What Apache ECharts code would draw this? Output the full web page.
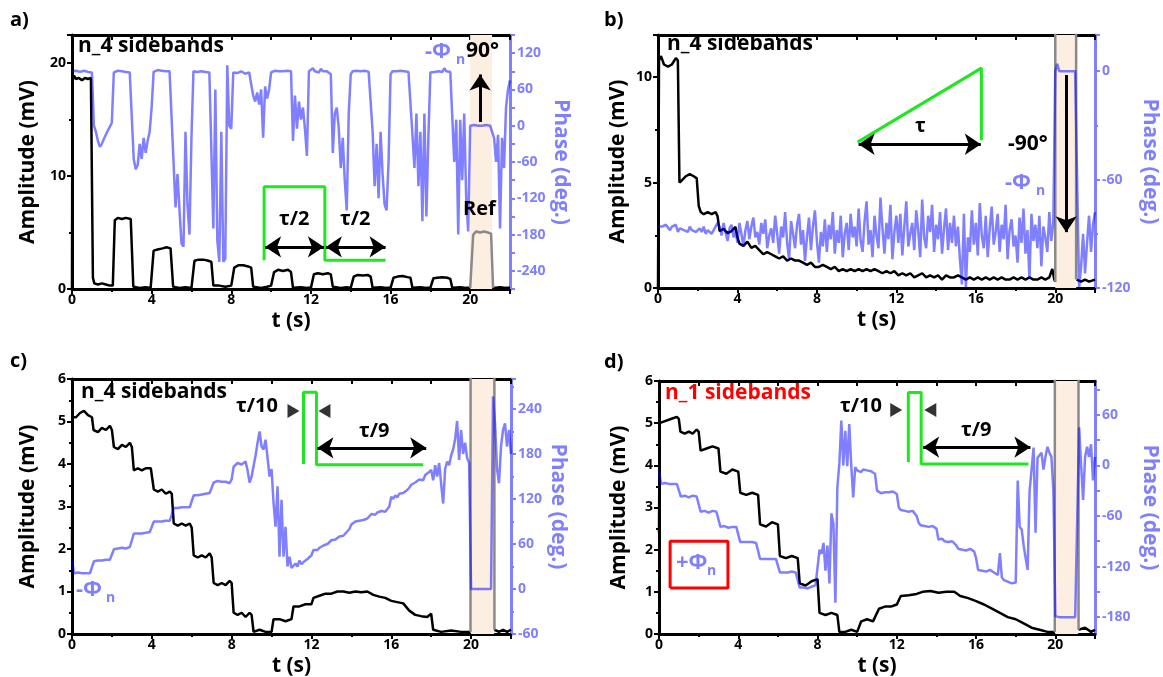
<!DOCTYPE html>
<html><head><meta charset="utf-8">
<script src="https://cdn.jsdelivr.net/npm/echarts@6/dist/echarts.min.js"></script>
<style>html,body{margin:0;padding:0;background:#fff}#c{width:1163px;height:677px}</style>
</head><body><div id="c"></div>
<script>
const FONT = '"Open Sans", "DejaVu Sans", sans-serif';
const BLUE_AX = '#8080ff';
const BLUE_LINE = 'rgba(0,0,255,0.5)';
const GREEN = '#1de81d';
const SHADE = '#fcefe2';
const DT = 0.1; // phase sampling step (s)

// ---------- Panel a ----------
const ampA = [[0,0],[0.02,18.4],[0.1,18.9],[0.2,18.6],[0.35,18.7],[0.5,18.5],[0.65,18.7],[0.8,18.6],[0.95,18.7],[1.05,1.0],[1.12,0.5],[1.3,0.4],[1.5,0.5],[1.7,0.4],[1.9,0.3],[2.05,0.3],[2.15,6.1],[2.3,6.3],[2.5,6.2],[2.7,6.3],[2.95,6.2],[3.08,0.2],[3.4,0.1],[3.7,0.15],[3.95,0.1],[4.1,3.4],[4.3,3.5],[4.55,3.6],[4.75,3.7],[4.95,3.6],[5.08,0.2],[5.4,0.1],[5.7,0.15],[6.0,0.1],[6.15,2.5],[6.35,2.6],[6.6,2.6],[6.85,2.5],[7.0,2.4],[7.1,0.3],[7.4,0.3],[7.7,0.2],[8.0,0.3],[8.15,1.9],[8.35,2.1],[8.6,2.1],[8.85,2.0],[9.0,1.9],[9.1,0.2],[9.5,0.1],[9.8,0.2],[10.0,0.3],[10.15,1.5],[10.35,1.7],[10.6,1.6],[10.85,1.7],[11.0,1.5],[11.1,0.1],[11.5,0.15],[11.8,0.1],[12.0,0.1],[12.15,1.3],[12.35,1.4],[12.6,1.3],[12.85,1.4],[13.0,1.3],[13.1,0.2],[13.5,0.1],[13.8,0.15],[14.0,0.1],[14.15,1.1],[14.35,1.25],[14.6,1.2],[14.85,1.25],[15.0,1.1],[15.1,0.1],[15.5,0.15],[15.8,0.1],[16.0,0.1],[16.15,1.0],[16.35,1.1],[16.6,1.15],[16.85,1.05],[17.0,1.0],[17.1,0.1],[17.5,0.15],[17.8,0.1],[18.0,0.1],[18.15,0.95],[18.35,1.0],[18.6,1.05],[18.85,1.0],[19.0,0.9],[19.1,0.1],[19.5,0.15],[19.8,0.1],[20.0,0.1]];
const ampATail = [[21.15,0.1],[21.5,0.15],[21.8,0.1],[22,0.1]];
const refA = [[20.0,0.1],[20.15,4.8],[20.3,5.1],[20.5,5.0],[20.7,5.1],[20.9,5.0],[21.05,4.9],[21.15,0.1]];
const phaseA = [90,
 90,91,90,89,90,91,90,89,90,88,
 0,-10,-25,-35,-30,-22,-20,-8,-2,5,
 88,90,91,89,90,92,89,90,88,90,
 -55,-72,-65,-30,-55,-20,-45,-25,-10,30,
 89,90,92,90,91,89,90,91,90,88,
 -60,-135,-80,-140,-195,-200,-10,-130,-180,-20,
 90,88,89,91,90,88,89,90,88,85,
 -170,60,-190,-225,-10,-225,-220,100,0,-5,
 88,89,87,88,90,88,86,87,88,88,
 50,40,55,35,60,-20,65,45,60,88,
 90,91,89,90,92,90,89,91,90,90,
 -25,50,-5,40,10,30,-5,-50,90,92,
 95,90,93,88,94,90,92,90,88,85,
 -45,20,30,-5,-70,-20,-90,-140,20,85,
 90,89,91,92,90,88,91,90,89,88,
 -10,-100,-30,-120,-10,-80,-130,-140,-60,85,
 90,92,90,89,91,93,90,91,89,90,
 -15,-70,20,-100,-10,-158,20,-150,-20,88,
 90,89,91,90,92,89,95,90,88,89,
 15,-60,10,-180,10,-90,20,-120,-175,0,
 0,1,0,0,-1,0,0,1,0,0,
 0,-20,-60,-15,-170,-20,-70,30,60,75];
const pulseA = [[9.65,2.55],[9.65,9.05],[12.7,9.05],[12.7,2.55],[15.75,2.55]];

// ---------- Panel b ----------
const ampB = [[0,0],[0.05,10.8],[0.15,11.0],[0.3,10.6],[0.5,10.5],[0.7,10.6],[0.9,10.9],[1.0,10.8],[1.08,5.0],[1.2,5.1],[1.4,5.3],[1.6,5.4],[1.8,5.3],[1.95,5.2],[2.05,3.9],[2.15,3.6],[2.3,3.5],[2.5,3.6],[2.7,3.5],[2.9,3.6],[3.0,3.4],[3.1,2.7],[3.3,2.8],[3.5,2.6],[3.7,2.7],[3.9,2.9],[4.0,2.4],[4.1,2.1],[4.3,2.0],[4.5,2.2],[4.7,1.9],[4.9,2.0],[5.1,1.8],[5.3,1.6],[5.5,1.7],[5.7,1.6],[5.9,1.5],[6.1,1.4],[6.3,1.5],[6.5,1.3],[6.7,1.4],[6.9,1.3],[7.1,1.3],[7.3,1.2],[7.5,1.1],[7.7,1.2],[7.9,1.0],[8.1,1.0],[8.3,1.1],[8.5,1.0],[8.7,0.9],[8.9,1.0],[9.1,0.8],[9.3,0.9],[9.5,0.8],[9.7,0.9],[9.9,0.8],[10.1,0.9],[10.3,0.8],[10.5,0.9],[10.7,0.8],[10.9,0.9],[11.1,0.8],[11.3,0.7],[11.5,0.8],[11.7,0.7],[11.9,0.8],[12.1,0.6],[12.3,0.7],[12.5,0.6],[12.7,0.7],[12.9,0.5],[13.1,0.6],[13.3,0.7],[13.5,0.5],[13.7,0.6],[13.9,0.5],[14.1,0.6],[14.3,0.4],[14.5,0.6],[14.7,0.5],[14.9,0.5],[15.1,0.6],[15.3,0.5],[15.5,0.4],[15.7,0.5],[15.9,0.4],[16.1,0.5],[16.3,0.4],[16.5,0.5],[16.7,0.4],[16.9,0.5],[17.1,0.4],[17.3,0.5],[17.5,0.4],[17.7,0.4],[17.9,0.5],[18.1,0.4],[18.3,0.5],[18.5,0.4],[18.7,0.5],[18.9,0.4],[19.1,0.4],[19.3,0.5],[19.5,0.4],[19.7,0.5],[19.85,0.9],[19.95,0.4],[20.0,0.3]];
const ampBTail = [[21.08,0.4],[21.3,0.3],[21.5,0.4],[21.7,0.3],[22,0.4]];
const refB = [[20.0,0.3],[20.0,30],[21.05,30],[21.05,0.4]];
const phaseB = [-86,
 -85,-86,-87,-85,-86,-88,-86,-87,-85,-89,
 -87,-86,-88,-87,-89,-86,-88,-87,-89,-88,
 -87,-89,-86,-90,-88,-87,-90,-88,-89,-84,
 -86,-91,-84,-89,-94,-87,-85,-92,-88,-95,
 -84,-90,-97,-88,-83,-93,-86,-81,-92,-89,
 -96,-84,-90,-82,-98,-91,-87,-95,-80,-90,
 -101,-86,-92,-78,-95,-104,-83,-90,-98,-85,
 -79,-96,-88,-105,-92,-81,-99,-86,-77,-94,
 -106,-89,-97,-82,-100,-85,-93,-78,-101,-88,
 -95,-80,-103,-90,-84,-99,-79,-92,-86,-97,
 -76,-94,-100,-83,-72,-96,-88,-103,-80,-91,
 -98,-70,-87,-101,-84,-93,-74,-104,-89,-80,
 -95,-79,-102,-86,-72,-97,-90,-84,-99,-77,
 -88,-103,-71,-92,-98,-80,-89,-74,-100,-85,
 -93,-78,-101,-87,-76,-99,-84,-95,-80,-97,
 -86,-104,-118,-79,-120,-92,-100,-77,-96,-84,
 -102,-73,-91,-98,-80,-103,-87,-75,-96,-89,
 -79,-100,-85,-93,-74,-104,-88,-82,-97,-91,
 -106,-81,-95,-76,-101,-88,-115,-79,-94,-85,
 -98,-80,-108,-86,-92,-100,-78,-94,-84,0,
 4,0,0,0,1,0,0,0,0,0,
 -60,-120,-108,-90,-112,-95,-80,-100,-85,-78];
const triB = [[10.05,6.92],[16.28,10.43],[16.28,7.01]];

// ---------- Panel c ----------
const ampC = [[0,2.0],[0.03,5.1],[0.2,5.1],[0.4,5.2],[0.6,5.25],[0.8,5.15],[1.0,5.1],[1.08,4.8],[1.3,4.75],[1.5,4.85],[1.7,4.8],[1.9,4.9],[2.0,4.8],[2.1,4.4],[2.3,4.35],[2.5,4.45],[2.7,4.4],[2.9,4.5],[3.0,4.4],[3.1,3.85],[3.3,3.9],[3.5,3.85],[3.7,3.9],[3.95,3.9],[4.1,3.4],[4.3,3.35],[4.5,3.4],[4.7,3.3],[4.9,3.35],[5.0,3.3],[5.1,2.6],[5.3,2.55],[5.5,2.6],[5.7,2.55],[5.9,2.6],[6.0,2.5],[6.1,1.85],[6.3,1.8],[6.5,1.85],[6.7,1.8],[6.9,1.9],[7.0,1.8],[7.1,1.2],[7.3,1.15],[7.5,1.2],[7.7,1.15],[7.9,1.25],[8.0,1.2],[8.1,0.5],[8.3,0.45],[8.5,0.5],[8.7,0.4],[8.9,0.5],[9.0,0.45],[9.1,0.05],[9.4,0.1],[9.7,0.05],[10.0,0.05],[10.1,0.35],[10.4,0.35],[10.7,0.3],[11.0,0.35],[11.1,0.65],[11.4,0.65],[11.7,0.7],[12.0,0.7],[12.1,0.85],[12.4,0.9],[12.7,0.95],[13.0,0.95],[13.3,1.0],[13.6,1.0],[13.9,0.97],[14.2,1.0],[14.5,0.98],[14.8,1.0],[15.1,0.92],[15.4,0.88],[15.7,0.85],[16.0,0.78],[16.3,0.75],[16.6,0.72],[16.9,0.55],[17.2,0.45],[17.5,0.42],[17.8,0.4],[18.0,0.48],[18.1,0.1],[18.5,0.05],[19.0,0.08],[19.5,0.05],[19.97,0.05]];
const ampCTail = [[21.17,0.1],[21.4,0.05],[21.6,0.1],[21.8,0.05],[22,0.1]];
const refC = [[19.97,0.05],[20.0,40],[21.15,40],[21.17,0.1]];
const phaseC = [38,
 21,21,22,21,21,20,21,22,21,21,
 37,38,38,39,38,38,39,38,39,40,
 53,54,54,53,55,54,54,55,56,58,
 74,73,74,75,74,74,75,74,76,78,
 90,89,90,91,90,90,91,92,91,93,
 108,107,108,108,109,108,109,108,109,110,
 125,126,125,127,126,126,127,126,128,130,
 142,143,144,142,143,145,143,142,141,146,
 163,165,168,170,166,164,170,158,142,150,
 150,178,195,210,190,186,199,175,150,160,
 115,83,137,43,119,43,83,30,43,28,
 30,34,30,38,33,36,34,40,38,45,
 52,54,52,55,54,58,57,60,62,65,
 67,66,68,70,72,71,74,76,80,86,
 88,90,88,91,90,92,91,94,96,100,
 101,99,102,101,104,102,103,105,110,123,
 120,125,122,127,125,128,127,132,135,139,
 137,142,140,146,148,145,152,150,156,159,
 145,165,150,168,140,114,160,170,165,178,
 186,200,224,172,212,180,195,175,168,0,
 0,0,0,0,0,0,0,0,0,0,
 257,221,160,141,190,212,221,190,212,180];
const pulseC = [[11.6,4.0],[11.6,5.69],[12.25,5.69],[12.25,3.98],[17.6,3.98]];

// ---------- Panel d ----------
const ampD = [[0,2.4],[0.03,5.0],[0.3,5.05],[0.6,5.1],[0.9,5.15],[1.0,5.1],[1.08,4.8],[1.3,4.75],[1.5,4.8],[1.7,4.75],[1.9,4.85],[2.0,4.8],[2.1,4.35],[2.4,4.4],[2.7,4.45],[3.0,4.4],[3.1,3.85],[3.4,3.8],[3.7,3.9],[4.0,3.85],[4.1,3.35],[4.4,3.3],[4.7,3.35],[5.0,3.3],[5.1,2.6],[5.4,2.55],[5.7,2.65],[6.0,2.6],[6.1,1.85],[6.4,1.8],[6.7,1.85],[7.0,1.8],[7.1,1.2],[7.4,1.15],[7.7,1.25],[8.0,1.3],[8.1,0.5],[8.4,0.45],[8.7,0.5],[9.0,0.45],[9.1,0.05],[9.4,0.05],[9.7,0.1],[10.0,0.05],[10.2,0.3],[10.5,0.35],[10.8,0.3],[11.1,0.6],[11.4,0.65],[11.7,0.65],[12.0,0.7],[12.2,0.9],[12.6,0.92],[13.0,0.95],[13.3,1.0],[13.7,1.02],[14.1,0.98],[14.5,1.0],[14.9,1.0],[15.2,0.9],[15.6,0.85],[16.0,0.78],[16.4,0.7],[16.8,0.6],[17.2,0.5],[17.6,0.4],[18.0,0.35],[18.4,0.25],[18.8,0.15],[19.2,0.1],[19.6,0.05],[19.97,0.05]];
const ampDTail = [[21.17,0.1],[21.5,0.15],[21.8,0.05],[22,0.1]];
const refD = [[19.97,0.05],[20.0,40],[21.15,40],[21.17,0.1]];
const phaseD = [-6,
 -22,-22,-21,-22,-22,-23,-22,-21,-22,-22,
 -37,-37,-36,-37,-38,-37,-36,-37,-37,-38,
 -55,-55,-54,-55,-56,-55,-54,-55,-55,-56,
 -73,-73,-72,-73,-74,-73,-73,-72,-73,-74,
 -91,-90,-91,-92,-91,-90,-91,-91,-92,-91,
 -111,-110,-111,-112,-111,-110,-111,-112,-111,-112,
 -127,-126,-127,-128,-127,-127,-126,-128,-127,-128,
 -145,-144,-145,-144,-146,-145,-144,-143,-142,-144,
 -100,-105,-92,-125,-95,-140,-57,-69,-163,-26,
 2,53,0,41,-1,49,0,-38,-2,-6,
 -4,-8,-5,-3,-6,-4,-7,-5,-10,-30,
 -32,-33,-31,-32,-34,-32,-33,-31,-32,-34,
 -50,-53,-52,-54,-53,-55,-53,-54,-56,-60,
 -68,-71,-70,-72,-70,-73,-71,-72,-74,-75,
 -88,-89,-87,-90,-89,-91,-89,-90,-92,-95,
 -99,-98,-100,-99,-101,-100,-99,-101,-102,-110,
 -124,-123,-125,-124,-126,-125,-124,-126,-127,-128,
 -130,-104,-133,-136,-134,-138,-137,-140,-142,-139,
 -18,-73,-76,-95,-110,-124,-30,-5,21,-80,
 9,12,15,-5,10,22,15,10,-30,-179,
 -180,-180,-180,-180,-180,-180,-180,-180,-180,-180,
 -180,45,0,-41,10,22,10,25,-18,10];
const pulseD = [[12.58,4.08],[12.58,5.73],[13.23,5.73],[13.23,4.03],[18.64,4.03]];
const boxD = [[0.56,1.09],[0.56,2.2],[3.48,2.2],[3.48,1.09],[0.56,1.09]];

// tick value sets for the panel-d phase axis
const phaseLabelsD = [-180,-120,-60,0,60];
const phaseTicksD = [-180,-150,-120,-90,-60,-30,0,30,60,90];

// ---------- build ----------
const TXT = {fontFamily: FONT, fontWeight: 'bold'};
const tp = arr => arr.map((v, i) => [Math.round(i * DT * 100) / 100, v]);
const isMult = (v, m) => Math.abs(v / m - Math.round(v / m)) < 1e-6;

function xAxes(g) {
  return [
    {type:'value', gridIndex:g, position:'bottom', min:0, max:22, interval:4,
     name:'t (s)', nameLocation:'middle', nameGap:22,
     nameTextStyle:{...TXT, fontSize:21, color:'#000'},
     axisLine:{show:true, onZero:false, lineStyle:{color:'#000', width:3}},
     axisTick:{show:true, inside:false, length:5, lineStyle:{color:'#000', width:2}},
     minorTick:{show:true, splitNumber:2, length:3, lineStyle:{color:'#000', width:2}},
     axisLabel:{...TXT, fontSize:14, color:'#000', margin:4, formatter:v => isMult(v,4) ? String(v) : ''},
     splitLine:{show:false}, minorSplitLine:{show:false}},
    {type:'value', gridIndex:g, position:'top', min:0, max:22, interval:2,
     axisLine:{show:true, onZero:false, lineStyle:{color:'#000', width:3}},
     axisTick:{show:true, inside:true, length:5, lineStyle:{color:'#000', width:2}},
     axisLabel:{show:false}, splitLine:{show:false}}
  ];
}
function yLeft(g, min, max, interval, gap) {
  return {type:'value', gridIndex:g, position:'left', min, max, interval,
    name:'Amplitude (mV)', nameLocation:'middle', nameGap:gap, nameRotate:90,
    nameTextStyle:{...TXT, fontSize:21, color:'#000'},
    axisLine:{show:true, onZero:false, lineStyle:{color:'#000', width:3}},
    axisTick:{show:true, inside:false, length:5, lineStyle:{color:'#000', width:2}},
    minorTick:{show:true, splitNumber:2, length:3, lineStyle:{color:'#000', width:2}},
    axisLabel:{...TXT, fontSize:14, color:'#000', margin:6, formatter:v => isMult(v, interval) ? String(v) : ''},
    splitLine:{show:false}, minorSplitLine:{show:false}};
}
function yRight(g, min, max, extra, gap) {
  const ax = {type:'value', gridIndex:g, position:'right', min, max,
    name:'Phase (deg.)', nameLocation:'middle', nameGap:gap, nameRotate:-90,
    nameTextStyle:{...TXT, fontSize:21, color:BLUE_AX},
    axisLine:{show:true, onZero:false, lineStyle:{color:BLUE_AX, width:3}},
    axisTick:{show:true, inside:false, length:5, lineStyle:{color:BLUE_AX, width:2}},
    axisLabel:{...TXT, fontSize:14, color:BLUE_AX, margin:7},
    splitLine:{show:false}, minorSplitLine:{show:false}};
  return Object.assign(ax, extra(ax));
}

const grids = [
  {left:72, top:35, width:438, height:254},
  {left:658, top:35, width:437, height:253},
  {left:72, top:379, width:439, height:255},
  {left:659, top:381, width:436, height:253}
].map(g => Object.assign(g, {containLabel:false, outerBoundsMode:'none'}));

const xAxis = [].concat(xAxes(0), xAxes(1), xAxes(2), xAxes(3));
const yAxis = [
  yLeft(0, 0, 22.5, 10, 33),
  yRight(0, -270, 150, ax => ({interval:30,
    axisLabel:Object.assign({}, ax.axisLabel, {formatter:v => isMult(v,60) ? String(v) : ''})}), 40),
  yLeft(1, 0, 12, 5, 29),
  yRight(1, -120, 20, ax => ({interval:60,
    minorTick:{show:true, splitNumber:2, length:3, lineStyle:{color:BLUE_AX, width:2}},
    axisLabel:Object.assign({}, ax.axisLabel, {formatter:v => isMult(v,60) ? String(v) : ''})}), 44),
  yLeft(2, 0, 6, 1, 33),
  yRight(2, -60, 280, ax => ({interval:60,
    minorTick:{show:true, splitNumber:2, length:3, lineStyle:{color:BLUE_AX, width:2}},
    axisLabel:Object.assign({}, ax.axisLabel, {formatter:v => isMult(v,60) ? String(v) : ''})}), 36),
  yLeft(3, 0, 6, 1, 29),
  yRight(3, -200, 100, ax => ({
    axisTick:Object.assign({}, ax.axisTick, {customValues:phaseTicksD}),
    axisLabel:Object.assign({}, ax.axisLabel, {customValues:phaseLabelsD})}), 44)
];

function lineS(g, data, color, width, right, extra) {
  return Object.assign({type:'line', xAxisIndex:2*g, yAxisIndex:2*g + (right ? 1 : 0), data,
    showSymbol:false, symbol:'none', lineStyle:{color, width}, itemStyle:{color},
    silent:true, animation:false, z:3}, extra || {});
}
function shade(a, b) {
  return {markArea:{silent:true, itemStyle:{color:SHADE}, data:[[{xAxis:a},{xAxis:b}]]}};
}
function arrows(list, color) {
  return {markLine:{silent:true, animation:false, symbolSize:16,
    lineStyle:{color:color || '#000', width:3, type:'solid'}, label:{show:false},
    data:list.map(([p, q, s]) => [{coord:p, symbol:s ? 'none' : 'arrow'}, {coord:q, symbol:'arrow'}])}};
}
function tri(g, pts, rot) {
  return {type:'scatter', xAxisIndex:2*g, yAxisIndex:2*g, data:pts, symbol:'triangle',
    symbolSize:[14,12], symbolRotate:rot, itemStyle:{color:'#000'}, silent:true, animation:false, z:5};
}

const series = [
  // a
  lineS(0, ampA, '#000', 2.5, false, shade(20.0, 21.1)),
  lineS(0, ampATail, '#000', 2.5, false),
  lineS(0, refA, '#8a8a8a', 2.5, false),
  lineS(0, pulseA, GREEN, 3, false, arrows([[[9.7,3.73],[12.65,3.73]], [[12.75,3.73],[15.75,3.73]], [[20.5,14.8],[20.5,19.0],1]])),
  lineS(0, tp(phaseA), BLUE_LINE, 2.5, true),
  // b
  lineS(1, ampB, '#000', 2.5, false, shade(20.0, 21.05)),
  lineS(1, ampBTail, '#000', 2.5, false),
  lineS(1, refB, '#8a8a8a', 2.5, false),
  lineS(1, triB, GREEN, 3, false, arrows([[[10.1,6.82],[16.25,6.82]], [[20.55,10.1],[20.55,2.65],1]])),
  lineS(1, tp(phaseB), BLUE_LINE, 2.5, true),
  // c
  lineS(2, ampC, '#000', 2.5, false, shade(20.0, 21.15)),
  lineS(2, ampCTail, '#000', 2.5, false),
  lineS(2, refC, '#8a8a8a', 2.5, false),
  lineS(2, pulseC, GREEN, 3, false, arrows([[[12.3,4.38],[17.75,4.38]]])),
  tri(2, [[11.1,5.25]], -90),
  tri(2, [[12.65,5.25]], 90),
  lineS(2, tp(phaseC), BLUE_LINE, 2.5, true),
  // d
  lineS(3, ampD, '#000', 2.5, false, shade(20.0, 21.15)),
  lineS(3, ampDTail, '#000', 2.5, false),
  lineS(3, refD, '#8a8a8a', 2.5, false),
  lineS(3, pulseD, GREEN, 3, false, arrows([[[13.33,4.43],[18.74,4.43]]])),
  tri(3, [[11.97,5.31]], -90),
  tri(3, [[13.69,5.31]], 90),
  lineS(3, boxD, '#ff0000', 3, false),
  lineS(3, tp(phaseD), BLUE_LINE, 2.5, true)
];

const labels = [
  ['a)', 10, 10, 20, '#000'], ['b)', 604, 10, 20, '#000'], ['c)', 10, 351, 20, '#000'], ['d)', 604, 352, 20, '#000'],
  ['n_4 sidebands', 78, 36, 21, '#000'], ['n_4 sidebands', 667, 34, 21, '#000'],
  ['n_4 sidebands', 81, 382, 21, '#000'], ['n_1 sidebands', 665, 383, 21, '#ff0000'],
  ['-Φ', 425, 41, 22, BLUE_AX], ['n', 456, 53, 14, BLUE_AX], ['90°', 466, 41, 21, '#000'], ['Ref', 463, 199, 20, '#000'],
  ['τ/2', 279, 209, 20, '#000'], ['τ/2', 340, 209, 20, '#000'],
  ['τ', 915, 116, 20, '#000'], ['-90°', 1008, 134, 21, '#000'], ['-Φ', 1005, 172, 22, BLUE_AX], ['n', 1036, 184, 14, BLUE_AX],
  ['τ/10', 236, 396, 20, '#000'], ['τ/9', 359, 421, 20, '#000'], ['-Φ', 76, 579, 22, BLUE_AX], ['n', 106, 591, 14, BLUE_AX],
  ['τ/10', 840, 396, 20, '#000'], ['τ/9', 961, 420, 20, '#000'], ['+Φ', 676, 552, 22, BLUE_AX], ['n', 707, 564, 14, BLUE_AX]
];
const graphic = labels.map(([t, x, y, s, c]) => ({type:'text', left:x, top:y, silent:true, z:10,
  style:{text:t, fill:c, fontSize:s, fontWeight:'bold', fontFamily:FONT}}));

const chart = echarts.init(document.getElementById('c'), null, {renderer:'canvas'});
chart.setOption({animation:false, backgroundColor:'#fff', grid:grids, xAxis, yAxis, series, graphic});
</script></body></html>
